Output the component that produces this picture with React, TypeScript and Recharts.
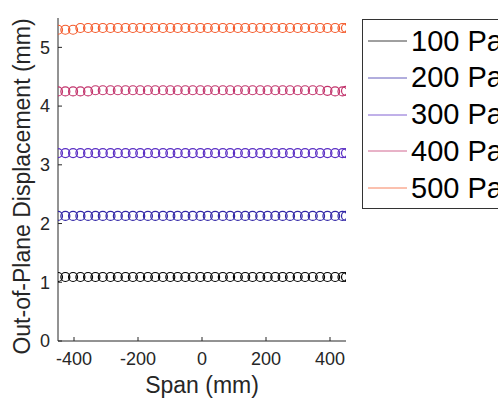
import React from 'react';
import { ScatterChart, Scatter, XAxis, YAxis } from 'recharts';

// positions along the span (mm)
const span = [
  -450, -427, -403, -380, -356, -333, -310, -286, -263, -239,
  -216, -193, -169, -146, -122, -99, -76, -52, -29, -5,
  18, 41, 65, 88, 112, 135, 158, 182, 205, 229,
  252, 275, 299, 322, 346, 369, 392, 416, 439, 450,
];

const disp100 = [
  1.09, 1.09, 1.09, 1.09, 1.09, 1.09, 1.09, 1.09, 1.09, 1.09,
  1.09, 1.09, 1.09, 1.09, 1.09, 1.09, 1.09, 1.09, 1.09, 1.09,
  1.09, 1.09, 1.09, 1.09, 1.09, 1.09, 1.09, 1.09, 1.09, 1.09,
  1.09, 1.09, 1.09, 1.09, 1.09, 1.09, 1.09, 1.09, 1.09, 1.09,
];
const disp200 = [
  2.13, 2.13, 2.13, 2.13, 2.13, 2.13, 2.13, 2.13, 2.13, 2.13,
  2.13, 2.13, 2.13, 2.13, 2.13, 2.13, 2.13, 2.13, 2.13, 2.13,
  2.13, 2.13, 2.13, 2.13, 2.13, 2.13, 2.13, 2.13, 2.13, 2.13,
  2.13, 2.13, 2.13, 2.13, 2.13, 2.13, 2.13, 2.13, 2.13, 2.13,
];
const disp300 = [
  3.2, 3.2, 3.2, 3.2, 3.2, 3.2, 3.2, 3.2, 3.2, 3.2,
  3.2, 3.2, 3.2, 3.2, 3.2, 3.2, 3.2, 3.2, 3.2, 3.2,
  3.2, 3.2, 3.2, 3.2, 3.2, 3.2, 3.2, 3.2, 3.2, 3.2,
  3.2, 3.2, 3.2, 3.2, 3.2, 3.2, 3.2, 3.2, 3.2, 3.2,
];
const disp400 = [
  4.25, 4.25, 4.25, 4.25, 4.25, 4.27, 4.27, 4.27, 4.27, 4.27,
  4.27, 4.27, 4.27, 4.27, 4.27, 4.27, 4.27, 4.27, 4.27, 4.27,
  4.27, 4.27, 4.27, 4.27, 4.27, 4.27, 4.27, 4.27, 4.27, 4.27,
  4.27, 4.27, 4.27, 4.27, 4.27, 4.27, 4.26, 4.25, 4.25, 4.26,
];
const disp500 = [
  5.3, 5.3, 5.3, 5.33, 5.33, 5.33, 5.33, 5.33, 5.33, 5.33,
  5.33, 5.33, 5.33, 5.33, 5.33, 5.33, 5.33, 5.33, 5.33, 5.33,
  5.33, 5.33, 5.33, 5.33, 5.33, 5.33, 5.33, 5.33, 5.33, 5.33,
  5.33, 5.33, 5.33, 5.33, 5.33, 5.33, 5.33, 5.33, 5.33, 5.33,
];

const seriesNames = ['100 Pa', '200 Pa', '300 Pa', '400 Pa', '500 Pa'];
const seriesValues = [disp100, disp200, disp300, disp400, disp500];
const colors = ['#000000', '#3126a6', '#5a2ec4', '#c2346c', '#f4592a'];

const xTicks = [-400, -200, 0, 200, 400];
const yTicks = [0, 1, 2, 3, 4, 5];

const axisColor = '#262626';
const font = 'Arial, "Liberation Sans", Helvetica, sans-serif';

const series = seriesNames.map((name, i) => ({
  name,
  color: colors[i],
  data: span.map((x, j) => ({ x, y: seriesValues[i][j] })),
}));

// legend box runs off the right edge, like the original figure
const Legend = () => (
  <div
    style={{
      position: 'absolute',
      left: 362,
      top: 19,
      width: 180,
      height: 188,
      border: '1px solid #333',
      background: '#fff',
      fontFamily: font,
    }}
  >
    {series.map((s, i) => (
      <div
        key={s.name}
        style={{ position: 'absolute', left: 0, top: 21 + i * 36.8 - 17, height: 34, display: 'flex', alignItems: 'center' }}
      >
        <svg width={48} height={34}>
          <line x1={5} x2={44} y1={17} y2={17} stroke={s.color} strokeWidth={1} strokeOpacity={0.75} />
        </svg>
        <span style={{ fontSize: 29, color: '#000', whiteSpace: 'nowrap' }}>{s.name}</span>
      </div>
    ))}
  </div>
);

export default function App() {
  return (
    <div style={{ position: 'absolute', left: 0, top: 0, width: 498, height: 407, overflow: 'hidden', background: '#fff' }}>
      <ScatterChart width={498} height={407} margin={{ top: 18, right: 152, bottom: 26, left: 18 }}>
        <XAxis
          type="number"
          dataKey="x"
          domain={[-450, 450]}
          ticks={xTicks}
          allowDataOverflow
          stroke={axisColor}
          tickSize={-4}
          tickMargin={15}
          height={40}
          tick={{ fill: axisColor, fontSize: 18, fontFamily: font }}
          label={{ value: 'Span (mm)', position: 'bottom', offset: -4, fill: axisColor, fontSize: 23, fontFamily: font }}
        />
        <YAxis
          type="number"
          dataKey="y"
          domain={[0, 5.5]}
          ticks={yTicks}
          allowDataOverflow
          stroke={axisColor}
          tickSize={-4}
          tickMargin={12}
          width={40}
          tick={{ fill: axisColor, fontSize: 18, fontFamily: font }}
          label={{
            value: 'Out-of-Plane Displacement (mm)',
            angle: -90,
            position: 'center',
            dx: -16,
            dy: 7,
            fill: axisColor,
            fontSize: 23,
            fontFamily: font,
          }}
        />
        {series.map((s) => (
          <Scatter
            key={s.name}
            name={s.name}
            data={s.data}
            isAnimationActive={false}
            shape={(p: any) => (
              <circle cx={p.cx} cy={p.cy} r={4.5} fill="none" stroke={s.color} strokeWidth={1.2} />
            )}
          />
        ))}
      </ScatterChart>
      <Legend />
    </div>
  );
}
